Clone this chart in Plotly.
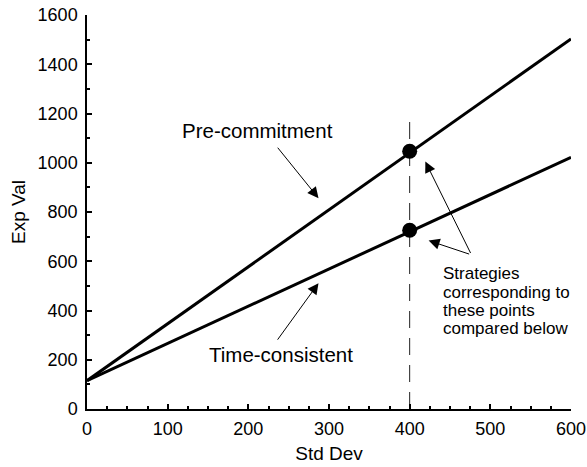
import plotly.graph_objects as go

# ---- data ----
std_dev = [0, 600]
exp_precommit = [115, 1503]
exp_timecons = [115, 1022]
point_std = [400, 400]
point_exp = [1047, 726]
ref_line_x = [400, 400]
ref_line_y = [0, 1170]
x_ticks = [0, 100, 200, 300, 400, 500, 600]
y_ticks = [0, 200, 400, 600, 800, 1000, 1200, 1400, 1600]
strategy_lines = ["Strategies", "corresponding to", "these points", "compared below"]
strategy_line_y = [549, 472, 399, 326]

FONT = "Liberation Sans, Arial, Helvetica, sans-serif"

fig = go.Figure()
fig.add_trace(go.Scatter(x=ref_line_x, y=ref_line_y, mode="lines",
                         line=dict(color="#222", width=1, dash="17px,10px"),
                         showlegend=False, hoverinfo="skip"))
fig.add_trace(go.Scatter(x=std_dev, y=exp_precommit, mode="lines",
                         line=dict(color="black", width=3), name="Pre-commitment",
                         showlegend=False))
fig.add_trace(go.Scatter(x=std_dev, y=exp_timecons, mode="lines",
                         line=dict(color="black", width=3), name="Time-consistent",
                         showlegend=False))
fig.add_trace(go.Scatter(x=point_std, y=point_exp, mode="markers",
                         marker=dict(color="black", size=15), showlegend=False))

annotations = []
# text labels
annotations.append(dict(x=211.5, y=1129, text="Pre-commitment", showarrow=False,
                        xanchor="center", yanchor="middle", font=dict(size=20.5)))
annotations.append(dict(x=240.5, y=222, text="Time-consistent", showarrow=False,
                        xanchor="center", yanchor="middle", font=dict(size=20.5)))
for txt, yy in zip(strategy_lines, strategy_line_y):
    annotations.append(dict(x=439, y=yy, text=txt, showarrow=False,
                            xanchor="left", yanchor="middle", font=dict(size=17)))
# arrows (tip in data coords, tail as pixel offset)
arrow_common = dict(text="", showarrow=True, arrowhead=2, arrowsize=2.2,
                    arrowwidth=1, arrowcolor="black", standoff=0, startstandoff=0)
annotations.append(dict(x=287, y=856, ax=-42, ay=-52, **arrow_common))
annotations.append(dict(x=287, y=511, ax=-42, ay=58, **arrow_common))
annotations.append(dict(x=419.4, y=1005, ax=46, ay=93, **arrow_common))
annotations.append(dict(x=423.5, y=684, ax=42, ay=14, **arrow_common))

fig.update_layout(
    width=587, height=467,
    margin=dict(l=87, r=16, t=15, b=58),
    paper_bgcolor="white", plot_bgcolor="white",
    font=dict(family=FONT, color="black", size=18),
    annotations=annotations,
    showlegend=False,
)
fig.update_xaxes(range=[0, 600], tickvals=x_ticks, showgrid=False, zeroline=False,
                 automargin=False, ticklabeloverflow="allow",
                 showline=True, linecolor="black", linewidth=1.5,
                 ticks="inside", ticklen=5, tickwidth=1.5, tickcolor="black",
                 minor=dict(dtick=25, ticks="inside", ticklen=3, tickwidth=1.5, tickcolor="black"),
                 tickfont=dict(size=18), ticklabelstandoff=3,
                 title=dict(text="Std Dev", font=dict(size=19), standoff=8))
fig.update_yaxes(range=[0, 1600], tickvals=y_ticks, showgrid=False, zeroline=False,
                 automargin=False, ticklabeloverflow="allow",
                 showline=True, linecolor="black", linewidth=1.5,
                 ticks="inside", ticklen=5, tickwidth=1.5, tickcolor="black",
                 minor=dict(dtick=100, ticks="inside", ticklen=3, tickwidth=1.5, tickcolor="black"),
                 tickfont=dict(size=18), ticklabelstandoff=4,
                 title=dict(text="Exp Val", font=dict(size=19), standoff=7))

# remove the page's default body margin so the figure sits at the top-left corner
fig.write_html("out.html", config={"displayModeBar": False},
               post_script="document.body.style.margin='0';")
